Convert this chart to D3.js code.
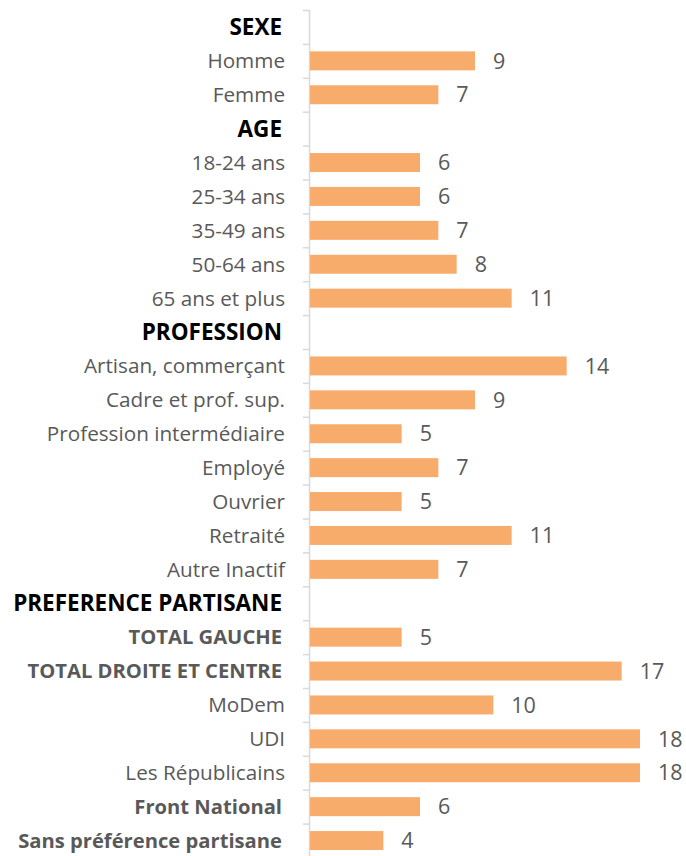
<!DOCTYPE html>
<html>
<head>
<meta charset="utf-8">
<script src="https://cdn.jsdelivr.net/npm/d3@7"></script>
<style>
  body { margin: 0; background: #fff; }
  text { font-family: "Open Sans", sans-serif; }
</style>
</head>
<body>
<div class="container"></div>
<script>
// rows top to bottom, headers have no value
const labels = [
  "SEXE", "Homme", "Femme",
  "AGE", "18-24 ans", "25-34 ans", "35-49 ans", "50-64 ans", "65 ans et plus",
  "PROFESSION", "Artisan, commerçant", "Cadre et prof. sup.", "Profession intermédiaire",
  "Employé", "Ouvrier", "Retraité", "Autre Inactif",
  "PREFERENCE PARTISANE", "TOTAL GAUCHE", "TOTAL DROITE ET CENTRE", "MoDem", "UDI",
  "Les Républicains", "Front National", "Sans préférence partisane"
];
const values = [
  null, 9, 7,
  null, 6, 6, 7, 8, 11,
  null, 14, 9, 5, 7, 5, 11, 7,
  null, 5, 17, 10, 18, 18, 6, 4
];
// 0 = normal, 1 = section header (black bold), 2 = bold grey
const kinds = [
  1, 0, 0,
  1, 0, 0, 0, 0, 0,
  1, 0, 0, 0, 0, 0, 0, 0,
  1, 2, 2, 0, 0, 0, 2, 2
];

const width = 686;
const height = 856;
const x0 = 310;

const svg = d3.select(".container").append("svg")
  .attr("width", width)
  .attr("height", height);

const y = d3.scaleBand()
  .domain(d3.range(labels.length))
  .range([10, 857.5])
  .paddingInner(0.44)
  .paddingOuter(0.22);

const x = d3.scaleLinear().domain([0, 18]).range([x0, 640]);

const step = y.step();

// axis line with ticks between categories
svg.append("line")
  .attr("x1", x0 - 0.5).attr("x2", x0 - 0.5)
  .attr("y1", 10).attr("y2", height)
  .attr("stroke", "#d9d9d9").attr("stroke-width", 1.5);

svg.selectAll(".tick")
  .data(d3.range(labels.length + 1))
  .enter().append("line")
  .attr("x1", x0 - 7).attr("x2", x0)
  .attr("y1", d => 10.5 + d * step).attr("y2", d => 10.5 + d * step)
  .attr("stroke", "#d9d9d9").attr("stroke-width", 1.5);

const rows = d3.range(labels.length);

svg.selectAll(".bar")
  .data(rows.filter(i => values[i] != null))
  .enter().append("rect")
  .attr("x", x(0))
  .attr("y", i => y(i))
  .attr("width", i => x(values[i]) - x(0))
  .attr("height", y.bandwidth())
  .attr("fill", "#f8ac6c");

svg.selectAll(".val")
  .data(rows.filter(i => values[i] != null))
  .enter().append("text")
  .attr("x", i => x(values[i]) + 18)
  .attr("y", i => y(i) + y.bandwidth() / 2)
  .attr("dy", "0.36em")
  .attr("font-size", 21.5)
  .attr("fill", "#595959")
  .text(i => values[i]);

const sizes = [20.7, 22.5, 20.2];

svg.selectAll(".lab")
  .data(rows)
  .enter().append("text")
  .attr("x", i => kinds[i] === 0 ? 285 : 282)
  .attr("y", i => y(i) + y.bandwidth() / 2)
  .attr("dy", "0.36em")
  .attr("text-anchor", "end")
  .attr("font-size", i => sizes[kinds[i]])
  .attr("font-weight", i => kinds[i] === 0 ? "normal" : "bold")
  .attr("fill", i => kinds[i] === 1 ? "#000" : "#595959")
  .text(i => labels[i]);
</script>
</body>
</html>
